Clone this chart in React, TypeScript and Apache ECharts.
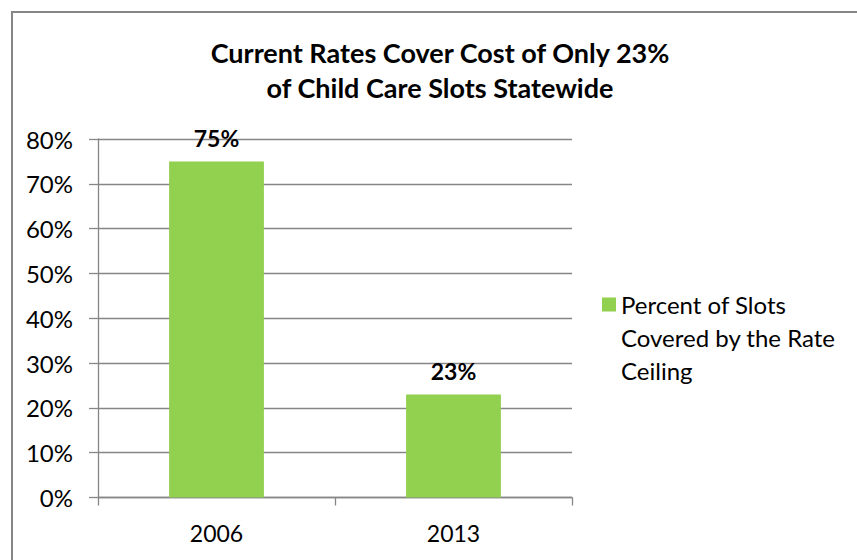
import React, { useEffect, useRef } from "react";
import * as echarts from "echarts";

const titleLines = ["Current Rates Cover Cost of Only 23%", "of Child Care Slots Statewide"];
const categories = ["2006", "2013"];
const seriesName = "Percent of Slots Covered by the Rate Ceiling";
const legendLines = ["Percent of Slots", "Covered by the Rate", "Ceiling"];
const values = [0.75, 0.23];
const yMin = 0;
const yMax = 0.8;
const yInterval = 0.1;

const FONT = "Lato, 'Open Sans', sans-serif";
const GRAY = "#868686";

export default function App() {
  const ref = useRef<HTMLDivElement>(null);
  useEffect(() => {
    if (!ref.current) return;
    const chart = echarts.init(ref.current, undefined, { renderer: "svg" });
    chart.setOption({
      animation: false,
      backgroundColor: "#ffffff",
      textStyle: { fontFamily: FONT },
      graphic: [
        {
          type: "rect",
          shape: { x: 12, y: 12, width: 900, height: 600 },
          style: { fill: "none", stroke: GRAY, lineWidth: 2 },
          silent: true,
        },
        ...titleLines.map((t, i) => ({
          type: "text",
          x: 440,
          y: 52 + i * 35,
          style: {
            text: t,
            fontFamily: FONT,
            fontSize: 27,
            fontWeight: "bold",
            fill: "#000",
            textAlign: "center",
            textVerticalAlign: "middle",
          },
        })),
      ],
      legend: {
        show: true,
        left: 602,
        top: 222,
        padding: 0,
        itemWidth: 14,
        itemHeight: 14,
        itemGap: 8,
        icon: "rect",
        formatter: () => "\n\n" + legendLines.join("\n"),
        textStyle: {
          fontFamily: FONT,
          fontSize: 24,
          color: "#000",
          lineHeight: 33,
        },
      },
      grid: { left: 98, right: 285, top: 139, bottom: 62.5 },
      xAxis: {
        type: "category",
        data: categories,
        axisLine: { show: true, lineStyle: { color: GRAY, width: 1.3 } },
        axisTick: { show: true, length: 8, alignWithLabel: false, lineStyle: { color: GRAY, width: 1.3 } },
        axisLabel: { fontFamily: FONT, fontSize: 23, color: "#000", margin: 24 },
      },
      yAxis: {
        type: "value",
        min: yMin,
        max: yMax,
        interval: yInterval,
        axisLine: { show: true, lineStyle: { color: GRAY, width: 1.3 } },
        axisTick: { show: true, length: 9, lineStyle: { color: GRAY, width: 1.3 } },
        axisLabel: {
          fontFamily: FONT,
          fontSize: 24,
          color: "#000",
          margin: 25,
          formatter: (v: number) => `${Math.round(v * 100)}%`,
        },
        splitLine: { show: true, lineStyle: { color: GRAY, width: 1.3 } },
      },
      series: [
        {
          name: seriesName,
          type: "bar",
          data: values,
          barWidth: "40%",
          itemStyle: { color: "#92D050" },
          label: {
            show: true,
            position: "top",
            distance: 12,
            fontFamily: FONT,
            fontSize: 23,
            fontWeight: "bold",
            color: "#000",
            formatter: (p: any) => `${Math.round(p.value * 100)}%`,
          },
        },
      ],
    });
    return () => chart.dispose();
  }, []);
  return <div ref={ref} style={{ width: 857, height: 560, position: "absolute", left: 0, top: 0 }} />;
}
